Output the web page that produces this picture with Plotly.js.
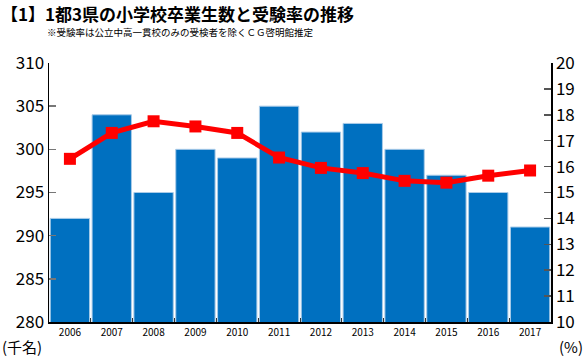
<!DOCTYPE html>
<html><head><meta charset="utf-8">
<script src="https://cdn.plot.ly/plotly-3.0.1.min.js"></script>
<style>body{margin:0;background:#fff}#c{width:588px;height:359px}</style>
</head><body><div id="c"></div>
<script>
const years = ['2006','2007','2008','2009','2010','2011','2012','2013','2014','2015','2016','2017'];
const graduates = [292,304,295,300,299,305,302,303,300,297,295,291];
const examRate = [16.3,17.3,17.75,17.55,17.3,16.35,15.95,15.75,15.45,15.38,15.65,15.85];
const leftTicks = [280,285,290,295,300,305,310];
const rightTicks = [10,11,12,13,14,15,16,17,18,19,20];
const FONT = '"Noto Sans CJK JP", "Noto Sans", sans-serif';

const data = [
  {type:'bar', x:years, y:graduates, marker:{color:'#0070C0', line:{color:'#a9cbe8', width:1}}, hoverinfo:'none'},
  {type:'scatter', mode:'lines+markers', x:years, y:examRate, yaxis:'y2',
   line:{color:'#FF0000', width:5}, marker:{symbol:'square', size:12, color:'#FF0000'}, hoverinfo:'none'}
];
const layout = {
  width:588, height:359, showlegend:false,
  margin:{l:49, r:37, t:63, b:37},
  paper_bgcolor:'#fff', plot_bgcolor:'#fff',
  bargap:0.06,
  font:{family:FONT, color:'#000'},
  xaxis:{type:'category', range:[-0.5, 11.5], tickson:'boundaries', ticks:'inside', ticklen:4, tickcolor:'#333',
    showline:true, linecolor:'#000', linewidth:1.5, showgrid:false, tickfont:{size:10, family:FONT}, zeroline:false},
  yaxis:{range:[280,310], tickvals:leftTicks, ticks:'inside', ticklen:7, tickcolor:'#777', tickwidth:1.5,
    showline:true, linecolor:'#000', linewidth:1.5, showgrid:false, zeroline:false,
    tickfont:{size:17, family:FONT}},
  yaxis2:{range:[10,20], tickvals:rightTicks, overlaying:'y', side:'right', ticks:'inside', ticklen:7, tickcolor:'#555', tickwidth:1.5,
    showline:true, linecolor:'#000', linewidth:1.5, showgrid:false, zeroline:false,
    tickfont:{size:17, family:FONT}},
  annotations:[
    {xref:'paper', yref:'paper', x:0, y:1, xanchor:'left', yanchor:'middle', showarrow:false, borderpad:0,
     text:'<b>【1】1都3県の小学校卒業生数と受験率の推移</b>', font:{size:17, family:FONT}, xshift:-49, yshift:49.5},
    {xref:'paper', yref:'paper', x:0, y:1, xanchor:'left', yanchor:'middle', showarrow:false, borderpad:0,
     text:'※受験率は公立中高一貫校のみの受検者を除くＣＧ啓明館推定', font:{size:9.5, family:FONT}, xshift:-3, yshift:31},
    {xref:'paper', yref:'paper', x:0, y:0, xanchor:'center', yanchor:'top', showarrow:false,
     text:'(千名)', font:{size:15, family:FONT}, xshift:-27, yshift:-12},
    {xref:'paper', yref:'paper', x:1, y:0, xanchor:'center', yanchor:'top', showarrow:false,
     text:'(%)', font:{size:15, family:FONT}, xshift:20, yshift:-12}
  ]
};
Plotly.newPlot('c', data, layout, {staticPlot:true});
</script></body></html>
